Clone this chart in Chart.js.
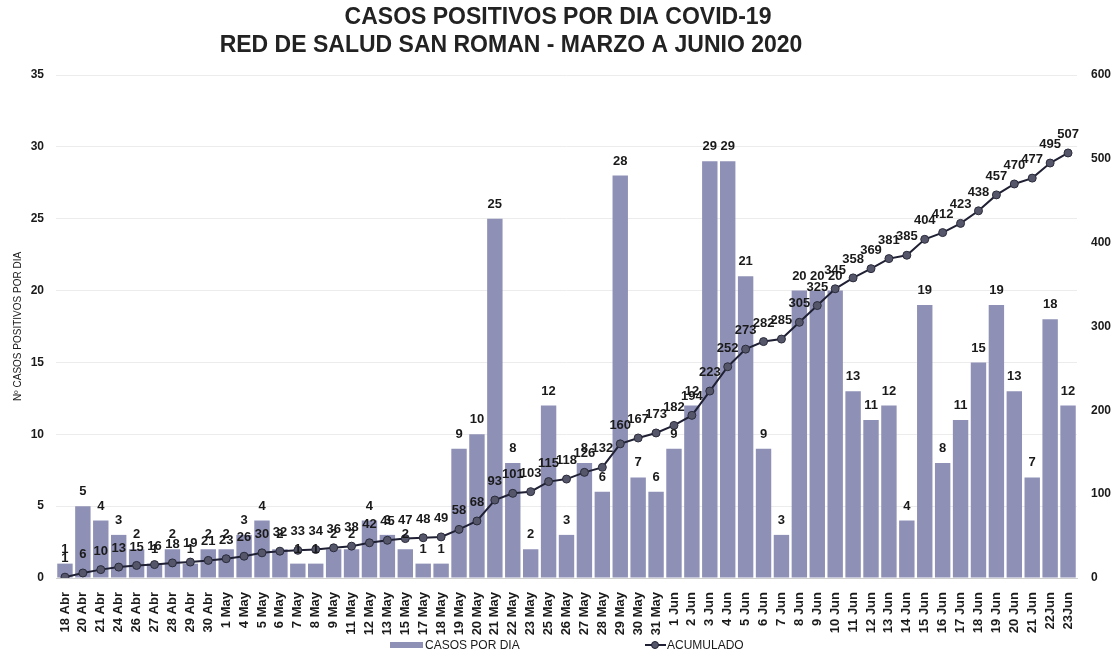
<!DOCTYPE html>
<html><head><meta charset="utf-8">
<script src="https://cdn.jsdelivr.net/npm/chart.js@4.4.1/dist/chart.umd.min.js"></script>
<style>html,body{margin:0;padding:0;background:#fff}#wrap{width:1117px;height:655px}</style>
</head><body><div id="wrap"><canvas id="c" width="1117" height="655"></canvas></div>
<script>
const categories = ["18 Abr","20 Abr","21 Abr","24 Abr","26 Abr","27 Abr","28 Abr","29 Abr","30 Abr","1 May","4 May","5 May","6 May","7 May","8 May","9 May","11 May","12 May","13 May","15 May","17 May","18 May","19 May","20 May","21 May","22 May","23 May","25 May","26 May","27 May","28 May","29 May","30 May","31 May","1 Jun","2 Jun","3 Jun","4 Jun","5 Jun","6 Jun","7 Jun","8 Jun","9 Jun","10 Jun","11 Jun","12 Jun","13 Jun","14 Jun","15 Jun","16 Jun","17 Jun","18 Jun","19 Jun","20 Jun","21 Jun","22Jun","23Jun"];
const casosPorDia = [1,5,4,3,2,1,2,1,2,2,3,4,2,1,1,2,2,4,3,2,1,1,9,10,25,8,2,12,3,8,6,28,7,6,9,12,29,29,21,9,3,20,20,20,13,11,12,4,19,8,11,15,19,13,7,18,12];
const acumulado = [1,6,10,13,15,16,18,19,21,23,26,30,32,33,34,36,38,42,45,47,48,49,58,68,93,101,103,115,118,126,132,160,167,173,182,194,223,252,273,282,285,305,325,345,358,369,381,385,404,412,423,438,457,470,477,495,507];
const leftTicks = [0,5,10,15,20,25,30,35];
const rightTicks = [0,100,200,300,400,500,600];
const titleLines = ["CASOS POSITIVOS POR DIA COVID-19","RED DE SALUD SAN ROMAN - MARZO A JUNIO 2020"];

const BAR = '#8e90b6';
const LINE = '#1f2033';
const PT = '#55566a';
const NARROW = "'Liberation Sans Narrow','Arial Narrow','Liberation Sans',sans-serif";
const SANS = "'Liberation Sans', Arial, sans-serif";

const labelPlugin = {
  id: 'labels',
  afterDatasetsDraw(chart) {
    const ctx = chart.ctx;
    ctx.save();
    ctx.fillStyle = '#1a1a1a';
    ctx.font = "bold 13px " + NARROW;
    ctx.textAlign = 'center';
    ctx.textBaseline = 'bottom';
    chart.getDatasetMeta(0).data.forEach((el, i) => {
      ctx.fillText(String(casosPorDia[i]), el.x, el.y - 8);
    });
    chart.getDatasetMeta(1).data.forEach((el, i) => {
      ctx.fillText(String(acumulado[i]), el.x, el.y - 12);
    });
    ctx.restore();
  }
};

const decorPlugin = {
  id: 'decor',
  afterDraw(chart) {
    const ctx = chart.ctx;
    ctx.save();
    ctx.fillStyle = '#222';
    ctx.textAlign = 'center';
    ctx.textBaseline = 'middle';
    ctx.font = "bold 23px " + SANS;
    ctx.fillText(titleLines[0], 558, 18);
    ctx.fillText(titleLines[1], 511, 46);
    // legend
    const ly = 645;
    ctx.fillStyle = BAR;
    ctx.fillRect(390, ly - 3, 33, 6);
    ctx.fillStyle = '#1a1a1a';
    ctx.textAlign = 'left';
    ctx.font = "12px " + SANS;
    ctx.fillText('CASOS POR DIA', 425, ly + 1);
    ctx.strokeStyle = LINE;
    ctx.lineWidth = 2;
    ctx.beginPath(); ctx.moveTo(645, ly); ctx.lineTo(666, ly); ctx.stroke();
    ctx.fillStyle = PT;
    ctx.beginPath(); ctx.arc(655, ly, 3.5, 0, Math.PI * 2); ctx.fill();
    ctx.strokeStyle = LINE; ctx.lineWidth = 1; ctx.stroke();
    ctx.fillStyle = '#1a1a1a';
    ctx.fillText('ACUMULADO', 667, ly + 1);
    ctx.restore();
  }
};

new Chart(document.getElementById('c'), {
  data: {
    labels: categories,
    datasets: [
      { type: 'bar', label: 'CASOS POR DIA', data: casosPorDia, yAxisID: 'y', order: 1,
        backgroundColor: BAR, barPercentage: 0.86, categoryPercentage: 1.0 },
      { type: 'line', label: 'ACUMULADO', data: acumulado, yAxisID: 'y2', order: 0,
        borderColor: LINE, borderWidth: 2, pointRadius: 4, pointBackgroundColor: PT,
        pointBorderColor: '#2a2b3a', pointBorderWidth: 1, tension: 0 }
    ]
  },
  options: {
    responsive: false,
    animation: false,
    layout: { padding: { top: 75, left: 0, right: 0, bottom: 0 } },
    plugins: { legend: { display: false }, title: { display: false }, tooltip: { enabled: false } },
    scales: {
      x: {
        grid: { display: false },
        border: { color: '#cfcfcf' },
        ticks: { autoSkip: false, minRotation: 90, maxRotation: 90, color: '#1a1a1a', padding: 6,
          font: { family: NARROW, size: 13, weight: 'bold' } },
        afterFit(s) { s.height = 77; }
      },
      y: {
        position: 'left', min: 0, max: 35,
        afterBuildTicks(s) { s.ticks = leftTicks.map(v => ({ value: v })); },
        grid: { color: '#ececec', drawTicks: false },
        border: { display: false },
        ticks: { color: '#1a1a1a', padding: 12, font: { family: NARROW, size: 12, weight: 'bold' } },
        title: { display: true, text: 'Nº CASOS POSITIVOS POR DIA', color: '#1a1a1a', padding: { top: 12, bottom: 0 },
          font: { family: NARROW, size: 10 } },
        afterFit(s) { s.width = 56; }
      },
      y2: {
        position: 'right', min: 0, max: 600,
        afterBuildTicks(s) { s.ticks = rightTicks.map(v => ({ value: v })); },
        grid: { display: false, drawTicks: false },
        border: { display: false },
        ticks: { color: '#1a1a1a', padding: 14, font: { family: NARROW, size: 12, weight: 'bold' } },
        afterFit(s) { s.width = 40; }
      }
    }
  },
  plugins: [labelPlugin, decorPlugin]
});
</script></body></html>
